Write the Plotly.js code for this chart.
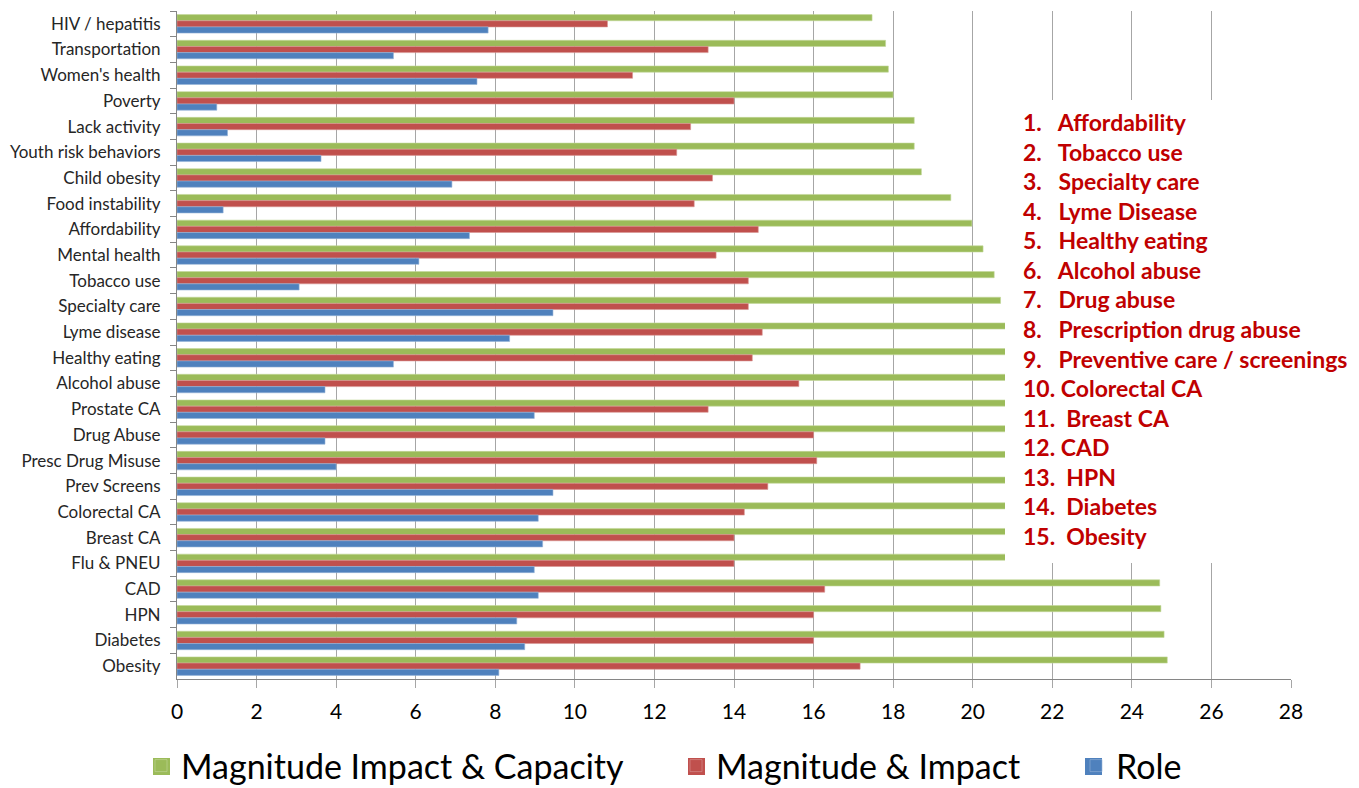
<!DOCTYPE html>
<html>
<head>
<meta charset="utf-8">
<script src="https://cdn.plot.ly/plotly-3.0.1.min.js"></script>
<style>
  html, body { margin: 0; padding: 0; background: #ffffff; }
  #chart { width: 1359px; height: 788px; }
</style>
</head>
<body>
<div id="chart"></div>
<script>
// Health issues, listed top to bottom
const categories = [
  "HIV / hepatitis", "Transportation", "Women's health", "Poverty", "Lack activity",
  "Youth risk behaviors", "Child obesity", "Food instability", "Affordability",
  "Mental health", "Tobacco use", "Specialty care", "Lyme disease", "Healthy eating",
  "Alcohol abuse", "Prostate CA", "Drug Abuse", "Presc Drug Misuse", "Prev Screens",
  "Colorectal CA", "Breast CA", "Flu & PNEU", "CAD", "HPN", "Diabetes", "Obesity"
];

const magnitudeImpactCapacity = [
  17.47, 17.81, 17.88, 18.0, 18.53, 18.53, 18.71, 19.45, 19.98, 20.26, 20.54, 20.7,
  20.9, 21.1, 21.3, 21.5, 21.8, 22.0, 22.3, 22.6, 22.9, 23.2,
  24.7, 24.73, 24.81, 24.89
];

const magnitudeImpact = [
  10.82, 13.35, 11.45, 14.0, 12.91, 12.56, 13.46, 13.0, 14.61, 13.55, 14.36, 14.36,
  14.71, 14.46, 15.63, 13.35, 16.0, 16.08, 14.85, 14.26, 14.0, 14.0,
  16.28, 16.0, 16.0, 17.17
];

const role = [
  7.82, 5.44, 7.54, 1.0, 1.27, 3.62, 6.91, 1.16, 7.35, 6.08, 3.07, 9.45,
  8.36, 5.44, 3.72, 8.98, 3.72, 4.0, 9.45, 9.08, 9.19, 8.98,
  9.08, 8.54, 8.74, 8.09
];

const seriesNames = ["Magnitude Impact & Capacity", "Magnitude & Impact", "Role"];

const xTickValues = [0, 2, 4, 6, 8, 10, 12, 14, 16, 18, 20, 22, 24, 26, 28];

// Priority list shown in the panel on the right
const priorityList = [
  "Affordability", "Tobacco use", "Specialty care", "Lyme Disease", "Healthy eating",
  "Alcohol abuse", "Drug abuse", "Prescription drug abuse", "Preventive care / screenings",
  "Colorectal CA", "Breast CA", "CAD", "HPN", "Diabetes", "Obesity"
];

// ---- geometry helpers (pixel -> paper / container) ----
const W = 1359, H = 788;
const M = { l: 177, r: 68, t: 11, b: 109, autoexpand: false };
const plotW = W - M.l - M.r, plotH = H - M.t - M.b;
const px = x => (x - M.l) / plotW;
const py = y => (H - M.b - y) / plotH;

const FONT = "Lato, 'Open Sans', 'DejaVu Sans', sans-serif";
const colors = ["#9BBB59", "#C0504D", "#4F81BD"];
const edgeColors = ["#C3D69B", "#D99694", "#95B3D7"];
const valueSets = [magnitudeImpactCapacity, magnitudeImpact, role];
const legendIds = ["legend", "legend2", "legend3"];

const traces = valueSets.map((vals, i) => ({
  type: "bar",
  orientation: "h",
  name: seriesNames[i],
  y: categories,
  x: vals,
  marker: { color: colors[i], line: { color: edgeColors[i], width: 0.6 } },
  legend: legendIds[i],
  hoverinfo: "x+y+name"
}));

// Right-hand panel: white box with the numbered list on top of the plot
const nbsp = n => "&nbsp;".repeat(n);
const annotations = priorityList.map((item, i) => {
  const n = i + 1;
  const gap = n < 10 ? nbsp(3) : ([11, 13, 14, 15].includes(n) ? nbsp(2) : nbsp(1));
  return {
    xref: "paper", yref: "paper",
    x: px(1021), y: py(122 + i * 29.57),
    xanchor: "left", yanchor: "middle",
    text: "<b>" + n + "." + gap + item + "</b>",
    showarrow: false,
    font: { family: FONT, size: 23, color: "#C00000" }
  };
});

const shapes = [{
  type: "rect", xref: "paper", yref: "paper", layer: "above",
  x0: px(1005), x1: px(1359), y0: py(563), y1: py(100),
  fillcolor: "#ffffff", line: { width: 0 }
}];

// Larger colour keys sitting under each legend swatch
const keyLeft = [153, 688, 1085];
keyLeft.forEach((x, i) => {
  shapes.push({
    type: "rect", xref: "paper", yref: "paper", layer: "above",
    x0: px(x), x1: px(x + 17), y0: py(775), y1: py(758),
    fillcolor: colors[i], line: { width: 0 }
  });
});

const legendBase = {
  orientation: "h", yanchor: "middle", xanchor: "left",
  xref: "container", yref: "container",
  y: (H - 766) / H, bgcolor: "rgba(0,0,0,0)",
  font: { family: FONT, size: 34, color: "#000000" }
};

const layout = {
  width: W, height: H,
  margin: M,
  paper_bgcolor: "#ffffff",
  plot_bgcolor: "#ffffff",
  barmode: "group",
  bargap: 0.28,
  bargroupgap: 0,
  showlegend: true,
  legend: Object.assign({}, legendBase, { x: 141 / W }),
  legend2: Object.assign({}, legendBase, { x: 676 / W }),
  legend3: Object.assign({}, legendBase, { x: 1076 / W }),
  xaxis: {
    range: [0, 28],
    tickvals: xTickValues,
    ticktext: xTickValues.map(String),
    showgrid: true, gridcolor: "#A6A6A6", gridwidth: 1,
    zeroline: false,
    showline: true, linecolor: "#868686", linewidth: 1,
    ticks: "outside", ticklen: 8, tickcolor: "#A6A6A6",
    ticklabelstandoff: 6,
    tickfont: { family: FONT, size: 21, color: "#000000" },
    fixedrange: true
  },
  yaxis: {
    type: "category",
    autorange: "reversed",
    showgrid: false,
    showline: true, linecolor: "#868686", linewidth: 1,
    ticks: "outside", ticklen: 6, tickcolor: "#868686",
    tickson: "boundaries",
    ticklabelstandoff: 12,
    tickfont: { family: FONT, size: 17, color: "#262626" },
    fixedrange: true
  },
  shapes: shapes,
  annotations: annotations
};

Plotly.newPlot("chart", traces, layout, { displayModeBar: false });
</script>
</body>
</html>
